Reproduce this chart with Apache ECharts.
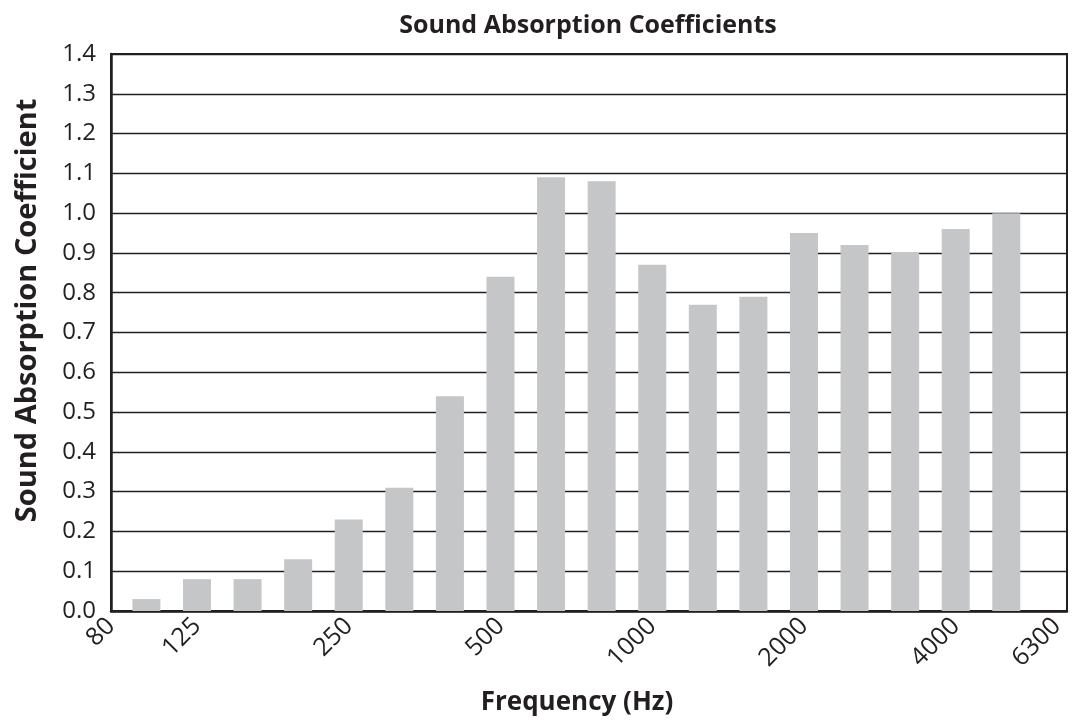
<!DOCTYPE html>
<html>
<head>
<meta charset="utf-8">
<script src="https://cdn.jsdelivr.net/npm/echarts@6/dist/echarts.min.js"></script>
<style>
  html, body { margin: 0; padding: 0; background: #fff; }
  #chart { width: 1080px; height: 721px; }
</style>
</head>
<body>
<div id="chart"></div>
<script>
// One-third octave band centre frequencies (Hz); the last band has no measurement
const bands = ['100','125','160','200','250','315','400','500','630','800','1000','1250','1600','2000','2500','3150','4000','5000','6300'];
// Sound absorption coefficient per band
const coefficients = [0.03, 0.08, 0.08, 0.13, 0.23, 0.31, 0.54, 0.84, 1.09, 1.08, 0.87, 0.77, 0.79, 0.95, 0.92, 0.90, 0.96, 1.00];
// Frequencies labelled on the x axis
const tickLabels = ['80','125','250','500','1000','2000','4000','6300'];
// Y axis ticks
const yTicks = [0.0, 0.1, 0.2, 0.3, 0.4, 0.5, 0.6, 0.7, 0.8, 0.9, 1.0, 1.1, 1.2, 1.3, 1.4];

const INK = '#231f20';
const FONT = '"Open Sans", sans-serif';
const xMin = -0.7, xMax = 18.2;

const barData = coefficients.map((v, i) => [i, v]);
const tickPos = tickLabels.map(t => { const i = bands.indexOf(t); return i < 0 ? xMin : i; });
const labelAt = new Map(tickPos.map((p, k) => [p, tickLabels[k]]));

const chart = echarts.init(document.getElementById('chart'), null, { renderer: 'canvas' });
chart.setOption({
  animation: false,
  backgroundColor: '#fff',
  title: {
    text: 'Sound Absorption Coefficients',
    left: 583, top: 8, textAlign: 'center',
    textStyle: { fontFamily: FONT, fontWeight: 'bold', fontSize: 25, color: INK }
  },
  grid: {
    left: 111, right: 13, top: 54, bottom: 108,
    show: true, borderColor: INK, borderWidth: 2, backgroundColor: 'transparent'
  },
  xAxis: {
    type: 'value', min: xMin, max: xMax,
    name: 'Frequency (Hz)', nameLocation: 'middle', nameGap: 79,
    nameTextStyle: { fontFamily: FONT, fontWeight: 'bold', fontSize: 26, color: INK, padding: [0, 24, 0, 0] },
    axisLine: { show: true, onZero: false, lineStyle: { color: INK, width: 2.5 } },
    axisTick: { show: false, customValues: tickPos },
    splitLine: { show: false },
    axisLabel: {
      customValues: tickPos, rotate: 45, margin: 11,
      fontFamily: FONT, fontSize: 25, color: INK,
      formatter: v => labelAt.get(v) ?? ''
    }
  },
  yAxis: {
    type: 'value', min: yTicks[0], max: yTicks[yTicks.length - 1], interval: 0.1,
    name: 'Sound Absorption Coefficient', nameLocation: 'middle', nameGap: 69,
    nameTextStyle: { fontFamily: FONT, fontWeight: 'bold', fontSize: 29, color: INK, padding: [0, 0, 0, 44] },
    axisLine: { show: true, onZero: false, lineStyle: { color: INK, width: 2.5 } },
    axisTick: { show: false },
    splitLine: { show: true, lineStyle: { color: INK, width: 1.3 } },
    axisLabel: {
      margin: 15, fontFamily: FONT, fontSize: 24, color: INK,
      formatter: v => v.toFixed(1)
    }
  },
  series: [{
    type: 'bar',
    data: barData,
    barWidth: 28,
    itemStyle: { color: '#c5c6c8' }
  }]
});
</script>
</body>
</html>
